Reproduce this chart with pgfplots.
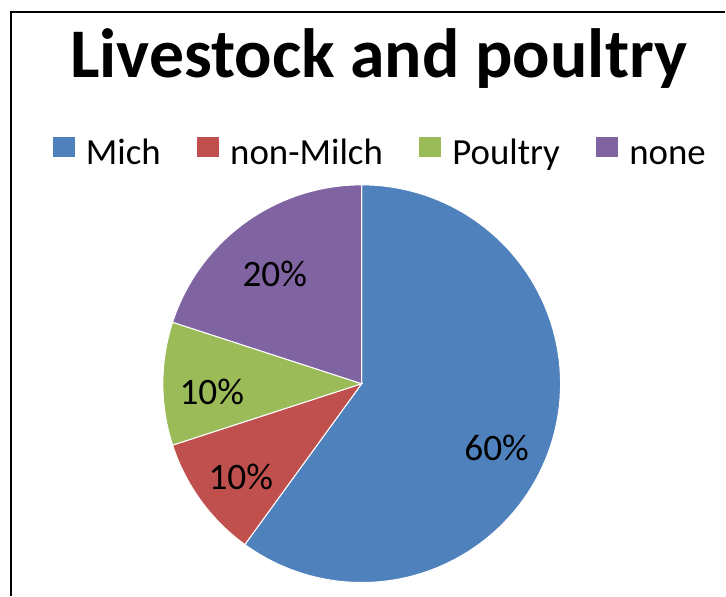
\documentclass[border=0pt]{standalone}
\usepackage{pgfplots}
\usepackage{pgfplotstable}
\pgfplotsset{compat=1.18}
\usepackage{fontspec}
\setmainfont{Carlito}
\definecolor{cblue}{HTML}{4F81BD}
\definecolor{cred}{HTML}{C0504D}
\definecolor{cgreen}{HTML}{9BBB59}
\definecolor{cpurple}{HTML}{8064A2}
\pgfplotstableread{
label value
Mich 60
non-Milch 10
Poultry 10
none 20
}\piedata
\pgfplotstablegetelem{0}{value}\of\piedata \edef\va{\pgfplotsretval}
\pgfplotstablegetelem{1}{value}\of\piedata \edef\vb{\pgfplotsretval}
\pgfplotstablegetelem{2}{value}\of\piedata \edef\vc{\pgfplotsretval}
\pgfplotstablegetelem{3}{value}\of\piedata \edef\vd{\pgfplotsretval}
\pgfmathsetmacro\aA{90-3.6*\va}
\pgfmathsetmacro\aB{\aA-3.6*\vb}
\pgfmathsetmacro\aC{\aB-3.6*\vc}
\pgfmathsetmacro\aD{\aC-3.6*\vd}
\pgfplotsset{sqlegend/.style={legend image code/.code={\fill[##1, draw=none] (0bp,8bp) rectangle (22bp,28bp);}}}
\begin{document}
\begin{tikzpicture}
\begin{axis}[
  hide axis, scale only axis, width=726bp, height=596bp,
  xmin=0, xmax=726, ymin=0, ymax=596, clip=false,
  legend columns=4,
  sqlegend,
  legend style={at={(axis cs:53,459)}, anchor=north west, draw=none, fill=none,
    inner sep=0pt, outer sep=0pt,
    font=\fontsize{37}{40}\selectfont,
    nodes={inner sep=0pt, text height=26bp, text depth=9bp, anchor=base west},
    /tikz/every odd column/.append style={column sep=11bp},
    /tikz/every even column/.append style={column sep=36.5bp}},
]
\path (rel axis cs:0,0) rectangle (rel axis cs:1,1);
\draw[black, line width=1.2bp] (axis cs:11,0) -- (axis cs:11,584) -- (axis cs:726,584);
\addplot[fill=cblue, draw=white, line width=1bp, domain=\aA:90, samples=120, variable=\t]
  ({362+199*cos(\t)},{212+199*sin(\t)}) -- (axis cs:362,212) -- cycle;
\addlegendentry{Mich}
\addplot[fill=cred, draw=white, line width=1bp, domain=\aB:\aA, samples=30, variable=\t]
  ({362+199*cos(\t)},{212+199*sin(\t)}) -- (axis cs:362,212) -- cycle;
\addlegendentry{non-Milch}
\addplot[fill=cgreen, draw=white, line width=1bp, domain=\aC:\aB, samples=30, variable=\t]
  ({362+199*cos(\t)},{212+199*sin(\t)}) -- (axis cs:362,212) -- cycle;
\addlegendentry{Poultry}
\addplot[fill=cpurple, draw=white, line width=1bp, domain=\aD:\aC, samples=50, variable=\t]
  ({362+199*cos(\t)},{212+199*sin(\t)}) -- (axis cs:362,212) -- cycle;
\addlegendentry{none}
\node[anchor=base, font=\fontsize{37.5}{40}\selectfont, inner sep=0pt] at (axis cs:497,135) {60\%};
\node[anchor=base, font=\fontsize{37.5}{40}\selectfont, inner sep=0pt] at (axis cs:241,106) {10\%};
\node[anchor=base, font=\fontsize{37.5}{40}\selectfont, inner sep=0pt] at (axis cs:212,191) {10\%};
\node[anchor=base, font=\fontsize{37.5}{40}\selectfont, inner sep=0pt] at (axis cs:275,309) {20\%};
\node[anchor=base, font=\fontsize{70}{80}\selectfont\bfseries, inner sep=0pt] at (axis cs:379,518) {Livestock and poultry};
\end{axis}
\end{tikzpicture}
\end{document}
